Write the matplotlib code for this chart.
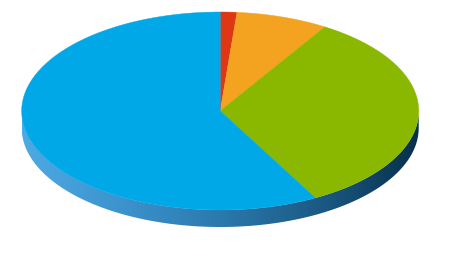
import numpy as np
import matplotlib
matplotlib.use('Agg')
import matplotlib.pyplot as plt
from matplotlib.patches import Polygon
from matplotlib.colors import LinearSegmentedColormap

# --- Data (share of each slice, clockwise from 12 o'clock) ---
labels = ['Red', 'Orange', 'Green', 'Blue']
values = [1.35, 7.5, 33.2, 57.95]
colors = ['#dd3714', '#f4a321', '#8ab800', '#00a8e8']

# --- Layout (pixel space) ---
W, H = 454, 274
cx, cy = 220.2, 111.0
rx, ry = 198.5, 99.0
depth = 17.0

fig = plt.figure(figsize=(W / 100, H / 100), dpi=100)
ax = fig.add_axes([0, 0, 1, 1])
ax.set_xlim(0, W)
ax.set_ylim(H, 0)
ax.axis('off')


def ell(t, dy=0.0):
    # t measured clockwise from top, in radians
    return np.column_stack([cx + rx * np.sin(t), cy - ry * np.cos(t) + dy])


# --- Side wall with horizontal gradient ---
t_side = np.linspace(np.pi / 2, 3 * np.pi / 2, 300)
side_pts = np.vstack([ell(t_side), ell(t_side[::-1], depth)])
side = Polygon(side_pts, closed=True, facecolor='none', edgecolor='none')
ax.add_patch(side)

side_cmap = LinearSegmentedColormap.from_list(
    'side', ['#4eaae3', '#3c93cd', '#2b79ad', '#1b5a85', '#07304b'])
grad = np.linspace(0, 1, 256).reshape(1, -1)
img = ax.imshow(grad, cmap=side_cmap, aspect='auto',
                extent=[cx - rx, cx + rx, cy + ry + depth + 2, cy - 2],
                interpolation='bilinear', zorder=1)
img.set_clip_path(side)

# --- Top face slices ---
total = sum(values)
start = 0.0
for v, c in zip(values, colors):
    frac = v / total
    t = np.linspace(start, start + frac * 2 * np.pi, max(3, int(400 * frac)))
    pts = np.vstack([[cx, cy], ell(t)])
    ax.add_patch(Polygon(pts, closed=True, facecolor=c, edgecolor=c,
                         linewidth=0.3, zorder=2))
    start += frac * 2 * np.pi

ax.set_ylim(H, 0)
ax.set_xlim(0, W)
fig.savefig('out.png', dpi=100, facecolor='white')
